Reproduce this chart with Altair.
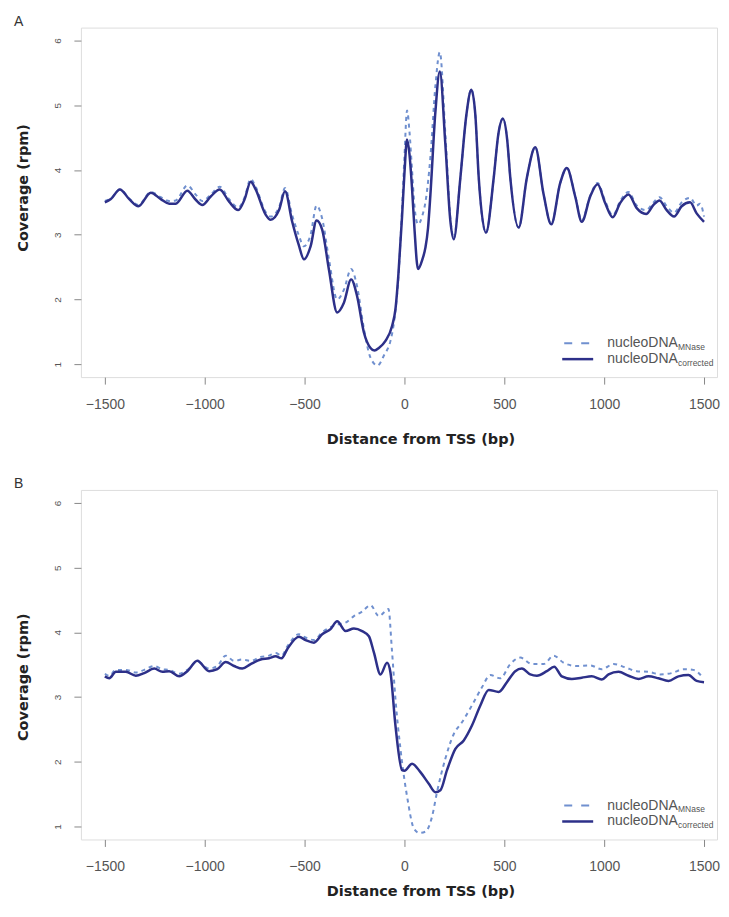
import altair as alt
import pandas as pd

# ---------------- data ----------------
X_TICKS = [-1500, -1000, -500, 0, 500, 1000, 1500]
Y_TICKS = [1, 2, 3, 4, 5, 6]
LEGEND_MAIN = ["nucleoDNA", "nucleoDNA"]
LEGEND_SUB = ["MNase", "corrected"]

A_corr_x = [-1500, -1470, -1425, -1378, -1332, -1270, -1220, -1178, -1145, -1087, -1045, -1012,
            -970, -925, -878, -832, -800, -770, -745, -695, -670, -628, -598, -562, -530, -503,
            -470, -440, -412, -378, -337, -303, -267, -237, -203, -170, -150, -128, -95, -62, -45, -30,
            -12, 0, 13, 25, 38, 50, 68, 90, 105, 118, 130, 155, 177, 205, 230, 247, 280, 310, 335,
            355, 372, 408, 447, 470, 493, 515, 530, 572, 613, 655, 697, 735, 780, 813, 855, 888,
            930, 967, 1005, 1043, 1080, 1122, 1163, 1210, 1247, 1277, 1313, 1350, 1388, 1430,
            1463, 1500]
A_corr_y = [3.50, 3.55, 3.70, 3.55, 3.44, 3.65, 3.55, 3.48, 3.48, 3.68, 3.54, 3.46,
            3.59, 3.70, 3.51, 3.38, 3.55, 3.82, 3.70, 3.31, 3.23, 3.38, 3.67, 3.20, 2.85, 2.62,
            2.82, 3.22, 3.08, 2.46, 1.80, 1.95, 2.31, 2.05, 1.49, 1.25, 1.21, 1.25, 1.36, 1.59, 1.85, 2.40,
            3.28, 3.95, 4.47, 4.25, 3.72, 3.10, 2.47, 2.62, 2.80, 3.10, 3.62, 4.90, 5.52, 4.39, 3.21, 2.93, 3.88, 4.85, 5.24,
            4.85, 3.88, 3.03, 3.88, 4.55, 4.79, 4.45, 3.88, 3.11, 3.88, 4.35, 3.62, 3.16, 3.80, 4.03, 3.59, 3.20,
            3.59, 3.78, 3.49, 3.27, 3.49, 3.62, 3.41, 3.32, 3.46, 3.53, 3.38, 3.28, 3.44, 3.50,
            3.33, 3.20]

A_mn_x = [-1500, -1470, -1425, -1378, -1332, -1270, -1220, -1178, -1145, -1087, -1045, -1012,
          -970, -925, -878, -832, -800, -770, -745, -695, -670, -628, -598, -562, -530, -503,
          -470, -440, -412, -378, -337, -303, -267, -237, -203, -170, -135, -100, -70, -50, -30,
          -12, 0, 13, 25, 38, 50, 68, 90, 105, 130, 155, 177, 205, 230, 247, 280, 310, 335,
          355, 372, 408, 447, 470, 493, 515, 530, 572, 613, 655, 697, 735, 780, 813, 855, 888,
          930, 967, 1005, 1043, 1080, 1122, 1163, 1210, 1247, 1277, 1313, 1350, 1388, 1430,
          1463, 1480, 1500]
A_mn_y = [3.52, 3.56, 3.70, 3.56, 3.46, 3.66, 3.58, 3.52, 3.53, 3.76, 3.62, 3.52,
          3.62, 3.74, 3.55, 3.42, 3.58, 3.86, 3.74, 3.35, 3.28, 3.42, 3.72, 3.30, 3.00, 2.82,
          3.00, 3.45, 3.25, 2.62, 2.00, 2.15, 2.47, 2.20, 1.55, 1.10, 0.98, 1.15, 1.36, 1.70, 2.35,
          3.40, 4.20, 4.92, 4.60, 4.00, 3.45, 3.16, 3.30, 3.50, 4.20, 5.30, 5.82, 4.55, 3.25, 2.95, 3.88, 4.85, 5.25,
          4.85, 3.88, 3.03, 3.88, 4.55, 4.80, 4.45, 3.88, 3.11, 3.88, 4.35, 3.62, 3.16, 3.80, 4.03, 3.60, 3.22,
          3.60, 3.80, 3.52, 3.30, 3.52, 3.66, 3.45, 3.38, 3.50, 3.58, 3.44, 3.34, 3.50, 3.57,
          3.45, 3.48, 3.28]

B_corr_x = [-1500, -1478, -1445, -1395, -1345, -1303, -1253, -1212, -1178, -1128, -1087, -1037,
            -978, -937, -895, -853, -812, -770, -720, -678, -645, -615, -587, -528, -495, -453,
            -412, -370, -337, -295, -253, -212, -178, -153, -120, -87, -70, -45, -12, 0, 38, 80,
            122, 155, 180, 213, 255, 297, 338, 380, 422, 472, 513, 555, 588, 630, 663, 713, 750,
            788, 838, 888, 938, 988, 1022, 1072, 1122, 1172, 1222, 1272, 1322, 1372, 1422, 1463, 1500]
B_corr_y = [3.32, 3.29, 3.39, 3.39, 3.33, 3.37, 3.44, 3.39, 3.40, 3.32, 3.40, 3.56,
            3.40, 3.43, 3.54, 3.48, 3.44, 3.51, 3.58, 3.60, 3.63, 3.60, 3.74, 3.93, 3.88, 3.84,
            3.97, 4.05, 4.17, 4.02, 4.06, 4.02, 3.94, 3.69, 3.35, 3.53, 3.38, 2.56, 1.87, 1.86, 1.97, 1.84,
            1.66, 1.53, 1.56, 1.87, 2.20, 2.33, 2.56, 2.87, 3.11, 3.08, 3.23, 3.40, 3.44, 3.35, 3.33, 3.40, 3.47,
            3.32, 3.28, 3.30, 3.32, 3.27, 3.35, 3.39, 3.33, 3.28, 3.32, 3.29, 3.25, 3.32, 3.34, 3.25, 3.23]

B_mn_x = [-1500, -1478, -1445, -1395, -1345, -1303, -1253, -1212, -1178, -1128, -1087, -1037,
          -978, -937, -895, -853, -812, -770, -720, -678, -645, -615, -587, -528, -495, -453,
          -412, -370, -337, -295, -253, -212, -170, -128, -95, -80, -63, -45, -20, 15, 47, 75,
          105, 138, 163, 205, 247, 288, 338, 388, 430, 480, 530, 580, 638, 697, 747, 797, 863,
          930, 988, 1047, 1105, 1163, 1222, 1280, 1338, 1397, 1447, 1497]
B_mn_y = [3.36, 3.33, 3.42, 3.42, 3.38, 3.42, 3.48, 3.43, 3.42, 3.36, 3.42, 3.55,
          3.44, 3.48, 3.64, 3.56, 3.58, 3.56, 3.62, 3.64, 3.68, 3.64, 3.78, 3.97, 3.92, 3.88,
          4.00, 4.08, 4.12, 4.15, 4.25, 4.32, 4.42, 4.25, 4.33, 4.36, 3.74, 2.97, 2.20, 1.43, 0.97, 0.90,
          0.92, 1.15, 1.53, 2.05, 2.43, 2.61, 2.87, 3.15, 3.34, 3.29, 3.51, 3.61, 3.51, 3.51, 3.64, 3.53, 3.48,
          3.49, 3.43, 3.51, 3.46, 3.40, 3.39, 3.35, 3.37, 3.43, 3.42, 3.29]

# ---------------- style ----------------
SOLID = "#2d3089"
DASH = "#7090cf"
W, H = 637, 350


def make_df(xs, ys):
    return pd.DataFrame({"pos": xs, "cov": ys})


def panel(letter, cx, cy, mx, my, title_y, ytitle_y):
    xscale = alt.Scale(domain=[-1620, 1565], nice=False, zero=False)
    yscale = alt.Scale(domain=[0.8, 6.2], nice=False, zero=False)
    xaxis = alt.Axis(values=X_TICKS, format="d", title="Distance from TSS (bp)", grid=False,
                     domain=False, tickSize=7, tickColor="#888", labelFont="Liberation Sans",
                     labelFontSize=14, labelColor="#555", labelPadding=13, labelFlush=False,
                     titleFont="DejaVu Sans", titleFontSize=14.5, titleFontWeight="bold",
                     titleColor="#222", titleX=340, titleY=title_y, titleAlign="center",
                     titleBaseline="middle")
    yaxis = alt.Axis(values=Y_TICKS, format="d", title="Coverage (rpm)", grid=False,
                     domain=False, tickSize=7, tickColor="#888", labelFont="Liberation Sans",
                     labelFontSize=10, labelColor="#555", labelAngle=270, labelAlign="center",
                     labelBaseline="bottom", labelPadding=11, labelFlush=False,
                     titleFont="DejaVu Sans", titleFontSize=14.5, titleFontWeight="bold",
                     titleColor="#222", titleAngle=270, titleX=-57, titleY=ytitle_y,
                     titleAlign="center", titleBaseline="middle")
    mn = alt.Chart(make_df(mx, my)).mark_line(
        color=DASH, strokeWidth=2, strokeDash=[4, 4], interpolate="monotone"
    ).encode(x=alt.X("pos:Q", scale=xscale, axis=xaxis),
             y=alt.Y("cov:Q", scale=yscale, axis=yaxis))
    co = alt.Chart(make_df(cx, cy)).mark_line(
        color=SOLID, strokeWidth=2.5, interpolate="monotone"
    ).encode(x=alt.X("pos:Q", scale=xscale, axis=xaxis),
             y=alt.Y("cov:Q", scale=yscale, axis=yaxis))

    one = pd.DataFrame({"k": [0]})
    leg_dash = alt.Chart(one).mark_rule(color=DASH, strokeWidth=2, strokeDash=[8, 9]).encode(
        x=alt.value(484), x2=alt.value(511), y=alt.value(H - 34))
    leg_solid = alt.Chart(one).mark_rule(color=SOLID, strokeWidth=2.5).encode(
        x=alt.value(482), x2=alt.value(513), y=alt.value(H - 18))
    texts = []
    for i, yy in enumerate([H - 34, H - 18]):
        texts.append(alt.Chart(one).mark_text(
            text=LEGEND_MAIN[i], align="left", baseline="middle", font="Liberation Sans",
            fontSize=14, color="#555").encode(x=alt.value(527), y=alt.value(yy)))
        texts.append(alt.Chart(one).mark_text(
            text=LEGEND_SUB[i], align="left", baseline="middle", font="Liberation Sans",
            fontSize=8.5, color="#555").encode(x=alt.value(598), y=alt.value(yy + 4)))
    lab = alt.Chart(one).mark_text(
        text=letter, align="left", baseline="top", font="Liberation Sans", fontSize=14,
        color="#333").encode(x=alt.value(-67), y=alt.value(-13))
    return alt.layer(mn, co, leg_dash, leg_solid, *texts, lab).properties(width=W, height=H)


pa = panel("A", A_corr_x, A_corr_y, A_mn_x, A_mn_y, 62, 160)
pb = panel("B", B_corr_x, B_corr_y, B_mn_x, B_mn_y, 52, 187)

chart = alt.vconcat(pa, pb, spacing=113, bounds="flush").properties(
    padding={"left": 5, "top": 5, "right": 0, "bottom": 0}
).configure_view(stroke="#8f8f8f", strokeWidth=2).configure(background="white")

chart.save("out.html", embed_options={"renderer": "svg", "actions": False})
